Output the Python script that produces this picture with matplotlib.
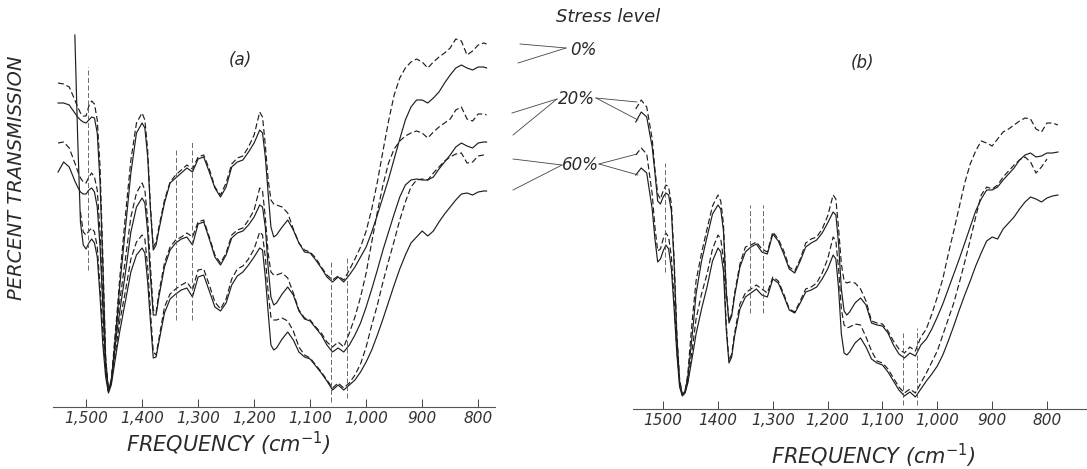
import numpy as np
import matplotlib
matplotlib.use("Agg")
import matplotlib.pyplot as plt

nan = np.nan

# frequency grid (cm^-1) shared by the curves of each panel
freq_a = [1550, 1540, 1530, 1520,
          1515, 1510, 1505, 1500, 1495, 1490, 1485, 1480, 1475, 1470, 1465, 1460, 1455, 1450, 1445, 1440,
          1430, 1420, 1410, 1400,
          1395, 1390, 1385, 1380, 1375, 1370,
          1360, 1350, 1340, 1330, 1320, 1310, 1300, 1290, 1280, 1270, 1260, 1250, 1240, 1230, 1220, 1210, 1200,
          1190, 1185, 1180, 1175, 1170, 1165, 1160,
          1150, 1140, 1130, 1120, 1110, 1100, 1090, 1080, 1070, 1060, 1050, 1040, 1030, 1020, 1010, 1000,
          990, 980, 970, 960, 950, 940, 930, 920, 910, 900, 890, 880, 870, 860, 850, 840, 830, 820, 810, 800, 790,
          785]
freq_b = freq_a[:-1] + [780]

# transmission (offset chart units) -- panel (a)
a_0_dash = [324, 323, 320, 307,
            300, 294, 291, 291, 301, 306, 303, 287, 240, 150, 50, 16, 24, 60, 92, 128,
            190, 247, 284, 294,
            287, 257, 200, 160, 165, 180,
            207, 225, 232, 237, 242, 238, 250, 252, 238, 220, 212, 224, 243, 249, 251, 260, 272,
            295, 290, 262, 228, 207, 203, 202,
            200, 194, 178, 164, 157, 155, 149, 140, 132, 127, 131, 127, 137, 148, 160, 176,
            198, 225, 256, 286, 312, 329, 339, 345, 348, 345, 339, 345, 350, 354, 359, 368, 366, 352, 356, 362, 364,
            363]
a_0_solid = [304, 304, 302, 294,
             290, 287, 285, 284, 287, 290, 289, 274, 224, 140, 48, 16, 24, 55, 86, 120,
             177, 234, 274, 284,
             279, 250, 197, 157, 162, 177,
             204, 224, 229, 234, 239, 235, 248, 250, 235, 219, 210, 220, 240, 245, 247, 255, 264,
             277, 274, 250, 214, 180, 170, 172,
             180, 187, 177, 164, 155, 154, 147, 139, 130, 125, 130, 125, 132, 140, 150, 160,
             175, 192, 210, 228, 248, 268, 287, 300, 307, 307, 304, 309, 315, 324, 332, 339, 342, 339, 337, 340, 340,
             339]
a_20_dash = [264, 265, 259, 244,
             236, 229, 225, 224, 230, 234, 230, 217, 174, 107, 40, 16, 27, 54, 85, 105,
             147, 190, 214, 224,
             217, 187, 140, 97, 94, 114,
             144, 160, 167, 170, 174, 170, 185, 187, 170, 152, 144, 154, 172, 177, 179, 187, 197,
             219, 216, 190, 154, 135, 132, 132,
             134, 129, 114, 97, 89, 87, 80, 74, 65, 60, 65, 60, 74, 90, 110, 134,
             165, 195, 222, 244, 258, 266, 271, 274, 276, 274, 269, 275, 280, 284, 288, 297, 300, 288, 286, 293, 293,
             292]
a_20_solid = [235, 245, 240, 226,
              220, 215, 213, 213, 217, 219, 215, 200, 160, 100, 40, 16, 27, 50, 75, 95,
              133, 175, 200, 209,
              204, 175, 130, 92, 92, 110,
              140, 157, 164, 168, 170, 162, 183, 185, 168, 150, 142, 152, 169, 174, 176, 182, 190,
              202, 200, 180, 140, 110, 102, 104,
              113, 120, 112, 96, 88, 86, 79, 72, 62, 55, 59, 55, 62, 72, 84, 100,
              118, 137, 157, 175, 193, 210, 222, 227, 228, 227, 227, 230, 238, 245, 252, 260, 264, 261, 259, 264, 265,
              265]
a_60_dash = [nan, nan, nan, nan,
             nan, 195, 175, 172, 176, 179, 175, 160, 120, 75, 35, 16, 25, 45, 65, 85,
             115, 148, 165, 172,
             168, 140, 95, 55, 52, 68,
             100, 113, 118, 122, 125, 117, 137, 138, 122, 105, 98, 108, 128, 138, 141, 148, 158,
             175, 172, 150, 115, 90, 87, 87,
             89, 86, 76, 60, 52, 49, 42, 35, 27, 19, 24, 19, 24, 32, 43, 60,
             82, 102, 125, 146, 166, 187, 205, 220, 227, 228, 227, 234, 240, 246, 250, 253, 254, 244, 245, 251, 252,
             251]
a_60_solid = [nan, nan, nan, 372,
              270, 185, 162, 158, 164, 168, 164, 150, 110, 62, 30, 14, 22, 40, 58, 75,
              105, 135, 152, 159,
              154, 125, 85, 49, 50, 65,
              94, 108, 113, 117, 119, 110, 130, 132, 116, 100, 96, 104, 122, 131, 135, 142, 150,
              159, 157, 130, 95, 62, 57, 59,
              68, 75, 67, 55, 50, 48, 41, 34, 26, 17, 22, 17, 22, 27, 35, 45,
              57, 72, 88, 105, 122, 138, 152, 164, 170, 176, 171, 176, 185, 193, 200, 207, 213, 214, 212, 215, 216,
              216]

# panel (b)
b_20_dash = [300, 309, 302, 270,
             240, 215, 210, 218, 224, 222, 205, 150, 75, 30, 14, 18, 35, 70, 100, 128,
             156, 180, 203, 214,
             208, 185, 120, 88, 95, 115,
             145, 162, 164, 167, 160, 157, 177, 170, 158, 142, 138, 150, 166, 170, 172, 180, 193,
             214, 210, 180, 145, 128, 126, 127,
             126, 120, 108, 88, 86, 85, 78, 68, 60, 56, 62, 58, 72, 80, 95, 112,
             130, 155, 178, 202, 226, 245, 258, 268, 266, 263, 270, 277, 280, 284, 288, 291, 290, 280, 277, 286, 286,
             284]
b_20_solid = [287, 297, 292, 262,
              236, 208, 205, 212, 216, 214, 198, 145, 72, 28, 14, 18, 32, 58, 85, 115,
              148, 172, 195, 204,
              200, 178, 118, 86, 93, 112,
              142, 157, 162, 165, 157, 155, 175, 168, 155, 140, 136, 148, 162, 166, 169, 176, 186,
              197, 194, 165, 120, 98, 94, 97,
              106, 111, 104, 86, 84, 83, 76, 64, 55, 51, 56, 53, 64, 70, 80, 92,
              105, 120, 135, 150, 166, 182, 198, 210, 219, 219, 222, 229, 235, 241, 249, 254, 256, 252, 253, 256, 256,
              257]
b_60_dash = [254, 261, 255, 215,
             182, 158, 160, 170, 176, 172, 152, 110, 60, 25, 14, 17, 28, 48, 68, 90,
             115, 135, 160, 174,
             170, 150, 85, 48, 55, 75,
             105, 116, 120, 124, 120, 116, 132, 128, 115, 100, 97, 108, 120, 122, 126, 136, 150,
             172, 168, 140, 100, 84, 81, 82,
             85, 84, 72, 58, 48, 46, 40, 31, 22, 16, 20, 16, 26, 36, 47, 58,
             74, 90, 106, 126, 147, 169, 192, 214, 222, 220, 224, 232, 238, 244, 249, 252, 247, 236, 242, 250, nan,
             nan]
b_60_solid = [234, 241, 236, 200,
              170, 147, 150, 158, 164, 160, 140, 100, 55, 22, 13, 16, 26, 42, 58, 75,
              100, 122, 148, 161,
              157, 138, 80, 46, 52, 72,
              100, 112, 116, 120, 114, 112, 130, 126, 113, 99, 96, 106, 117, 119, 122, 130, 140,
              154, 150, 120, 75, 56, 54, 57,
              66, 71, 62, 50, 46, 44, 37, 28, 19, 13, 17, 12, 20, 28, 35, 43,
              54, 68, 83, 99, 114, 128, 143, 156, 168, 172, 170, 180, 186, 192, 200, 207, 212, 210, 207, 211, 213,
              214]

# band marker lines: frequency, lower and upper transmission
marks_a_freq = [1496, 1340, 1310, 1062, 1035]
marks_a_low = [137, 87, 87, 5, 9]
marks_a_high = [340, 259, 265, 147, 150]
marks_b_freq = [1497, 1341, 1317, 1062, 1037]
marks_b_low = [137, 96, 96, 4, 4]
marks_b_high = [246, 204, 204, 76, 81]

ticks = [1500, 1400, 1300, 1200, 1100, 1000, 900, 800]
tick_labels_a = ["1,500", "1,400", "1,300", "1,200", "1,100", "1,000", "900", "800"]
tick_labels_b = ["1500", "1400", "1,300", "1,200", "1,100", "1,000", "900", "800"]

INK = "#1e1e1e"
DASH = (0, (5, 2.5))
W, H = 1087, 469

fig = plt.figure(figsize=(W / 100, H / 100), dpi=100)
fig.patch.set_facecolor("white")


def px_axes(x0, x1, y_top, y_axis):
    return fig.add_axes([x0 / W, (H - y_axis) / H, (x1 - x0) / W, (y_axis - y_top) / H])


def spectrum_panel(ax, freq, series, marks, labels, xlim, ytop):
    for vals, dashed in series:
        ax.plot(freq, vals, color=INK, lw=0.85,
                linestyle=DASH if dashed else "-", clip_on=False)
    f, lo, hi = marks
    ax.vlines(f, lo, hi, colors="#555555", lw=0.6, linestyles=(0, (6, 3)))
    ax.set_xlim(*xlim)
    ax.set_ylim(0, ytop)
    for s in ("top", "left", "right"):
        ax.spines[s].set_visible(False)
    ax.spines["bottom"].set_color("#555555")
    ax.spines["bottom"].set_linewidth(0.8)
    ax.spines["bottom"].set_linestyle((0, (3, 0.6)))
    ax.set_yticks([])
    ax.set_xticks(ticks)
    ax.set_xticklabels(labels, fontstyle="italic", fontsize=11, color="#333333")
    ax.tick_params(axis="x", direction="in", length=6, width=0.7,
                   color="#444444", pad=3)
    ax.patch.set_alpha(0)


ax_a = px_axes(53, 495, 0, 407)
spectrum_panel(ax_a, freq_a,
               [(a_0_dash, True), (a_0_solid, False), (a_20_dash, True),
                (a_20_solid, False), (a_60_dash, True), (a_60_solid, False)],
               (marks_a_freq, marks_a_low, marks_a_high), tick_labels_a,
               (1559, 770), 407)

ax_b = px_axes(633, 1087, 0, 409)
spectrum_panel(ax_b, freq_b,
               [(b_20_dash, True), (b_20_solid, False),
                (b_60_dash, True), (b_60_solid, False)],
               (marks_b_freq, marks_b_low, marks_b_high), tick_labels_b,
               (1555, 727), 409)

# lettering and the stress-level pointers, laid out in pixel space
ov = fig.add_axes([0, 0, 1, 1])
ov.set_xlim(0, W)
ov.set_ylim(H, 0)
ov.axis("off")
ov.patch.set_alpha(0)

txt = dict(color="#2a2a2a", fontstyle="italic", ha="center", va="center")
ov.text(17, 178, "PERCENT TRANSMISSION", rotation=90, fontsize=14, **txt)
ov.text(240, 60, "(a)", fontsize=12, **txt)
ov.text(862, 63, "(b)", fontsize=12, **txt)
ov.text(608, 17, "Stress level", fontsize=13, **txt)
ov.text(583, 50, "0%", fontsize=12, **txt)
ov.text(576, 99, "20%", fontsize=12, **txt)
ov.text(580, 165, "60%", fontsize=12, **txt)
ov.text(228, 444, r"FREQUENCY (cm$^{-1}$)", fontsize=15, **txt)
ov.text(873, 456, r"FREQUENCY (cm$^{-1}$)", fontsize=15, **txt)

pointers = [((566, 48), (520, 44)), ((566, 48), (518, 63)),
            ((557, 99), (512, 113)), ((557, 99), (513, 135)),
            ((596, 98), (637, 102)), ((596, 98), (638, 120)),
            ((562, 165), (513, 159)), ((562, 165), (513, 190)),
            ((599, 164), (637, 154)), ((599, 164), (638, 175))]
for (x0, y0), (x1, y1) in pointers:
    ov.plot([x0, x1], [y0, y1], color="#444444", lw=0.6)

fig.savefig("out.png", dpi=100, facecolor="white")
